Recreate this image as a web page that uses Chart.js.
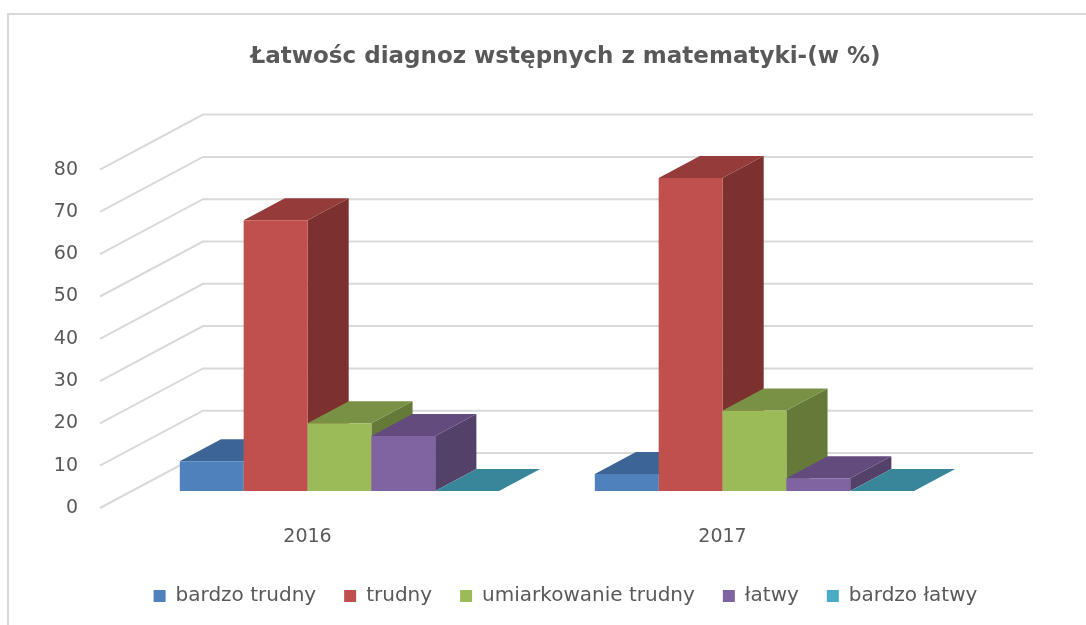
<!DOCTYPE html>
<html>
<head>
<meta charset="utf-8">
<script src="https://cdn.jsdelivr.net/npm/chart.js@4"></script>
<style>
  html, body { margin: 0; padding: 0; background: #fff; }
  #wrap { width: 1086px; height: 625px; }
</style>
</head>
<body>
<div id="wrap"><canvas id="myChart" width="1086" height="625"></canvas></div>
<script>
const years = ['2016', '2017'];
const levels = ['bardzo trudny', 'trudny', 'umiarkowanie trudny', 'łatwy', 'bardzo łatwy'];

// percentages per year
const bardzoTrudny = [7, 4];
const trudny = [64, 74];
const umiarkowanieTrudny = [16, 19];
const latwy = [13, 3];
const bardzoLatwy = [0, 0];

const yMin = 0;
const yMax = 80;
const yStep = 10;

// front / top / side shades of each series
const frontColors = ['#4f81bd', '#c0504d', '#9bbb59', '#8064a2', '#4bacc6'];
const topColors = ['#3c6494', '#953c3a', '#789144', '#634b7d', '#37869a'];
const sideColors = ['#385d8a', '#7c312f', '#657a39', '#54416a', '#31758a'];

const series = [bardzoTrudny, trudny, umiarkowanieTrudny, latwy, bardzoLatwy];

// floor depth on screen and where the bar row sits inside it
const DEPTH_X = 103;
const DEPTH_Y = 55;
const ROW_FRONT = 0.31;
const ROW_BACK = 0.71;

const textColor = '#595959';
const gridColor = '#d9d9d9';

const fill = (ctx, pts, color) => {
    ctx.fillStyle = color;
    ctx.beginPath();
    ctx.moveTo(pts[0][0], pts[0][1]);
    for (let i = 1; i < pts.length; i++) ctx.lineTo(pts[i][0], pts[i][1]);
    ctx.closePath();
    ctx.fill();
};

const frame = {
    id: 'frame',
    beforeDraw(chart) {
        const ctx = chart.ctx;
        ctx.save();
        ctx.strokeStyle = gridColor;
        ctx.lineWidth = 2;
        ctx.beginPath();
        ctx.moveTo(8, 640);
        ctx.lineTo(8, 14);
        ctx.lineTo(1100, 14);
        ctx.stroke();
        ctx.restore();
    }
};

const bars3d = {
    id: 'bars3d',
    beforeDatasetsDraw(chart) {
        const { ctx, chartArea, scales } = chart;
        const y = scales.y;

        // side wall and back wall gridlines
        ctx.save();
        ctx.strokeStyle = gridColor;
        ctx.lineWidth = 2;
        y.ticks.forEach(t => {
            const py = y.getPixelForValue(t.value);
            ctx.beginPath();
            ctx.moveTo(chartArea.left, py);
            ctx.lineTo(chartArea.left + DEPTH_X, py - DEPTH_Y);
            ctx.lineTo(chartArea.right + DEPTH_X, py - DEPTH_Y);
            ctx.stroke();
        });

        const ox = ROW_FRONT * DEPTH_X;
        const oy = ROW_FRONT * DEPTH_Y;
        const dx = (ROW_BACK - ROW_FRONT) * DEPTH_X;
        const dy = (ROW_BACK - ROW_FRONT) * DEPTH_Y;
        const yb = y.getPixelForValue(0) - oy;

        years.forEach((_, i) => {
            chart.data.datasets.forEach((ds, d) => {
                const bar = chart.getDatasetMeta(d).data[i];
                const xl = bar.x - bar.width / 2 + ox;
                const xr = bar.x + bar.width / 2 + ox;
                const yt = y.getPixelForValue(ds.data[i]) - oy;
                if (yb > yt) {
                    fill(ctx, [[xr, yt], [xr + dx, yt - dy], [xr + dx, yb - dy], [xr, yb]], sideColors[d]);
                }
                fill(ctx, [[xl, yt], [xl + dx, yt - dy], [xr + dx, yt - dy], [xr, yt]], topColors[d]);
                if (yb > yt) {
                    fill(ctx, [[xl, yt], [xr, yt], [xr, yb], [xl, yb]], frontColors[d]);
                }
            });
        });
        ctx.restore();
        return false;
    }
};

const ctx = document.getElementById('myChart').getContext('2d');

const myChart = new Chart(ctx, {
    type: 'bar',
    data: {
        labels: years,
        datasets: levels.map((name, d) => ({
            label: name,
            data: series[d],
            backgroundColor: frontColors[d],
            borderWidth: 0,
            categoryPercentage: 5 / 6.5,
            barPercentage: 1
        }))
    },
    options: {
        responsive: false,
        animation: false,
        events: [],
        layout: { padding: { left: 45, right: 0, top: 0, bottom: 9 } },
        plugins: {
            title: {
                display: true,
                text: 'Łatwośc diagnoz wstępnych z matematyki-(w %)',
                color: textColor,
                font: { family: 'DejaVu Sans', size: 23, weight: 'bold' },
                padding: { top: 43, bottom: 99 }
            },
            legend: {
                position: 'bottom',
                labels: {
                    color: textColor,
                    font: { family: 'DejaVu Sans', size: 20 },
                    boxWidth: 12,
                    boxHeight: 12,
                    padding: 28
                }
            },
            tooltip: { enabled: false }
        },
        scales: {
            x: {
                grid: { display: false, drawTicks: false },
                border: { display: false },
                ticks: {
                    color: textColor,
                    font: { family: 'DejaVu Sans', size: 19 },
                    padding: 18
                },
                afterFit(scale) { scale.height = 50; }
            },
            y: {
                min: yMin,
                max: yMax,
                grid: { display: false, drawTicks: false },
                border: { display: false },
                ticks: {
                    stepSize: yStep,
                    color: textColor,
                    font: { family: 'DejaVu Sans', size: 19 },
                    padding: 22
                },
                afterFit(scale) { scale.width = 55; }
            },
            depth: {
                position: 'right',
                min: yMin,
                max: yMax,
                grid: { display: false, drawTicks: false },
                border: { display: false },
                ticks: { display: false },
                afterFit(scale) { scale.width = 156; }
            }
        }
    },
    plugins: [frame, bars3d]
});
</script>
</body>
</html>
